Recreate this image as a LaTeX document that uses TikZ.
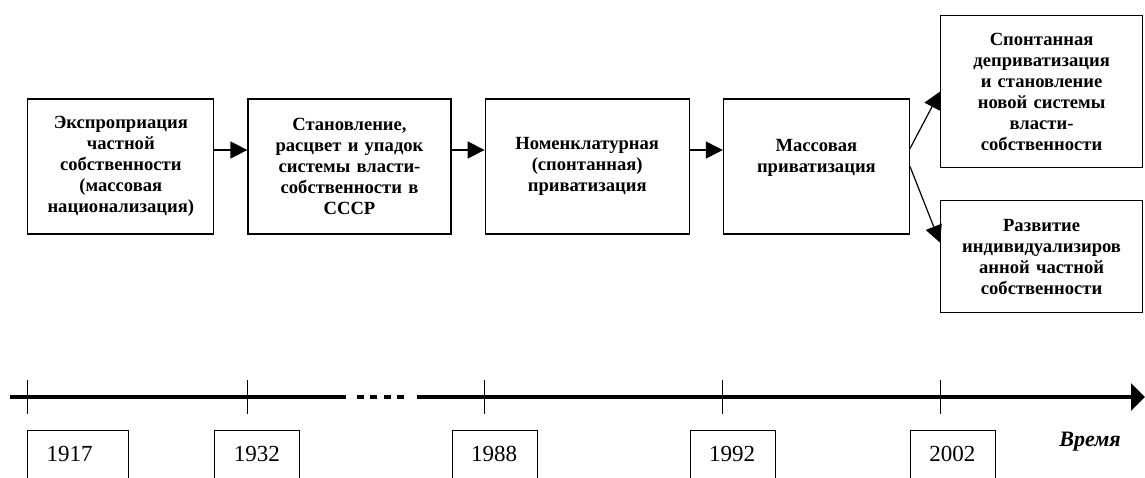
\documentclass[tikz,border=0pt]{standalone}
\usepackage{fontspec}
\setmainfont{Liberation Serif}
\usetikzlibrary{arrows.meta, positioning}

\tikzset{
    stage/.style={draw=black, line width=1.2pt, align=center, text width=#1, minimum height=135pt, inner sep=4pt, font=\bfseries\fontsize{18.6}{21}\selectfont},
    yearbox/.style={draw=black, line width=0.8pt, anchor=north west, align=left, text width=#1, inner xsep=19pt, inner ysep=0pt, text height=31pt, text depth=30pt, font=\fontsize{23}{26}\selectfont},
    yearbox/.default=47pt,
    flow/.style={line width=1.2pt, -{Triangle[length=17pt,width=17pt]}},
    axis/.style={line width=4pt},
    tick/.style={line width=0.8pt}
}

\begin{document}
\begin{tikzpicture}[x=1pt, y=-1pt]
        \useasboundingbox (0,0) rectangle (1145,477);
        \clip (0,0) rectangle (1145,477);

        \matrix (row) [column sep=33pt, inner sep=0pt, anchor=west] at (27,166.5) {
            \node[stage=178pt] (b1) {Экспроприация\\частной\\собственности\\(массовая\\национализация)} ; &
            \node[stage=195pt] (b2) {Становление,\\расцвет и упадок\\системы власти-\\собственности в\\СССР} ; &
            \node[stage=196pt] (b3) {Номенклатурная\\(спонтанная)\\приватизация} ; &
            \node[stage=178pt] (b4) {Массовая\\приватизация\\\mbox{}} ; \\
        } ;

        \node[stage=194pt, minimum height=152pt, anchor=north west] (r1) at (940,15) {Спонтанная\\деприватизация\\и становление\\новой системы\\власти-\\собственности} ;
        \node[stage=194pt, minimum height=112pt, anchor=north west] (r2) at (940,200) {Развитие\\индивидуализиров\\анной частной\\собственности} ;

        \foreach \a/\b in {b1/b2, b2/b3, b3/b4}
            \draw[flow] ([yshift=16.5pt]\a.east) -- ([yshift=16.5pt]\b.west) ;
        \draw[flow] ([yshift=18pt]b4.east) -- (r1.west) ;
        \draw[flow] (b4.east) -- ([yshift=14pt]r2.west) ;

        \coordinate (ttop) at (0,380) ;
        \coordinate (tbot) at (0,414) ;
        \coordinate (yl) at (0,430) ;
        \coordinate (a0) at (10,397) ;
        \coordinate (a1) at (346,397) ;
        \coordinate (d0) at (357,397) ;
        \coordinate (d1) at (405,397) ;
        \coordinate (a2) at (417,397) ;
        \coordinate (a3) at (1145,397) ;

        \draw[axis] (a0) -- (a1) ;
        \draw[axis, dash pattern=on 7pt off 6.3pt] (d0) -- (d1) ;
        \draw[axis, -{Triangle[length=14pt,width=27pt]}] (a2) -- (a3) ;

        \foreach \n in {b1, b2, b3, b4, r1}
            \draw[tick] (\n.west |- ttop) -- (\n.west |- tbot) ;

        \node[yearbox=63pt] (y1917) at (b1.west |- yl) {1917} ;
        \node[yearbox] (y1932) at (b1.east |- yl) {1932} ;
        \node[yearbox] (y1988) at (b2.east |- yl) {1988} ;
        \node[yearbox] (y1992) at (b3.east |- yl) {1992} ;
        \node[yearbox] (y2002) at (b4.east |- yl) {2002} ;

        \node[font=\bfseries\itshape\fontsize{22}{26}\selectfont] (time) at (1090,442) {Время} ;

    \end{tikzpicture}
\end{document}
